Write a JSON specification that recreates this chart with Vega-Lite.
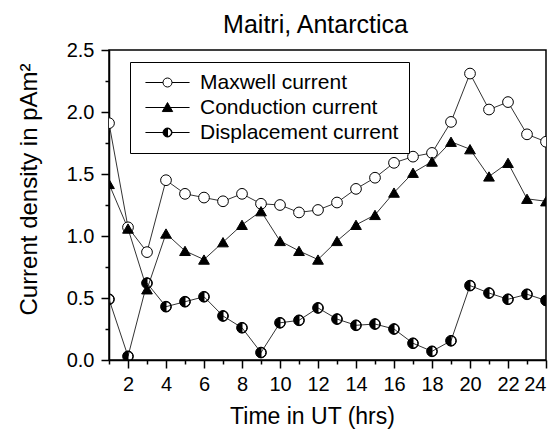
{
  "$schema": "https://vega.github.io/schema/vega-lite/v6.json",
  "width": 437,
  "height": 310,
  "autosize": "none",
  "padding": {"left": 109, "top": 50, "right": 14, "bottom": 74},
  "background": "white",
  "config": {
    "font": "Liberation Sans",
    "view": {"stroke": "black", "strokeWidth": 1.5},
    "axis": {"grid": false, "domainColor": "black", "domainWidth": 1.5, "tickColor": "black", "tickWidth": 1.5, "labelColor": "black", "titleColor": "black", "labelFont": "Liberation Sans", "titleFont": "Liberation Sans", "titleFontWeight": "normal"},
    "legend": {"orient": "none", "legendX": 21, "legendY": 12, "padding": 10, "rowPadding": 3,
      "strokeColor": "black", "fillColor": "white", "labelFontSize": 21, "labelFont": "Liberation Sans", "labelColor": "black", "labelLimit": 0,
      "symbolSize": 81, "symbolStrokeWidth": 1, "symbolStrokeColor": "black", "symbolOffset": 17, "labelOffset": 22}
  },
  "title": {"text": "Maitri, Antarctica", "fontSize": 25, "font": "Liberation Sans", "fontWeight": "normal", "color": "black", "anchor": "middle", "dx": -12, "offset": 2},
  "data": {"values": [
    {"t":1,"series":"Maxwell current","v":1.91},{"t":2,"series":"Maxwell current","v":1.07},{"t":3,"series":"Maxwell current","v":0.87},{"t":4,"series":"Maxwell current","v":1.45},{"t":5,"series":"Maxwell current","v":1.34},{"t":6,"series":"Maxwell current","v":1.31},{"t":7,"series":"Maxwell current","v":1.28},{"t":8,"series":"Maxwell current","v":1.34},{"t":9,"series":"Maxwell current","v":1.26},{"t":10,"series":"Maxwell current","v":1.25},{"t":11,"series":"Maxwell current","v":1.19},{"t":12,"series":"Maxwell current","v":1.21},{"t":13,"series":"Maxwell current","v":1.27},{"t":14,"series":"Maxwell current","v":1.38},{"t":15,"series":"Maxwell current","v":1.47},{"t":16,"series":"Maxwell current","v":1.59},{"t":17,"series":"Maxwell current","v":1.64},{"t":18,"series":"Maxwell current","v":1.67},{"t":19,"series":"Maxwell current","v":1.92},{"t":20,"series":"Maxwell current","v":2.31},{"t":21,"series":"Maxwell current","v":2.02},{"t":22,"series":"Maxwell current","v":2.08},{"t":23,"series":"Maxwell current","v":1.82},{"t":24,"series":"Maxwell current","v":1.76},
    {"t":1,"series":"Conduction current","v":1.42},{"t":2,"series":"Conduction current","v":1.06},{"t":3,"series":"Conduction current","v":0.57},{"t":4,"series":"Conduction current","v":1.02},{"t":5,"series":"Conduction current","v":0.88},{"t":6,"series":"Conduction current","v":0.81},{"t":7,"series":"Conduction current","v":0.95},{"t":8,"series":"Conduction current","v":1.09},{"t":9,"series":"Conduction current","v":1.2},{"t":10,"series":"Conduction current","v":0.96},{"t":11,"series":"Conduction current","v":0.88},{"t":12,"series":"Conduction current","v":0.81},{"t":13,"series":"Conduction current","v":0.96},{"t":14,"series":"Conduction current","v":1.09},{"t":15,"series":"Conduction current","v":1.17},{"t":16,"series":"Conduction current","v":1.35},{"t":17,"series":"Conduction current","v":1.51},{"t":18,"series":"Conduction current","v":1.6},{"t":19,"series":"Conduction current","v":1.76},{"t":20,"series":"Conduction current","v":1.7},{"t":21,"series":"Conduction current","v":1.48},{"t":22,"series":"Conduction current","v":1.59},{"t":23,"series":"Conduction current","v":1.3},{"t":24,"series":"Conduction current","v":1.28},
    {"t":1,"series":"Displacement current","v":0.49},{"t":2,"series":"Displacement current","v":0.03},{"t":3,"series":"Displacement current","v":0.62},{"t":4,"series":"Displacement current","v":0.43},{"t":5,"series":"Displacement current","v":0.47},{"t":6,"series":"Displacement current","v":0.51},{"t":7,"series":"Displacement current","v":0.355},{"t":8,"series":"Displacement current","v":0.26},{"t":9,"series":"Displacement current","v":0.06},{"t":10,"series":"Displacement current","v":0.3},{"t":11,"series":"Displacement current","v":0.32},{"t":12,"series":"Displacement current","v":0.42},{"t":13,"series":"Displacement current","v":0.33},{"t":14,"series":"Displacement current","v":0.28},{"t":15,"series":"Displacement current","v":0.29},{"t":16,"series":"Displacement current","v":0.25},{"t":17,"series":"Displacement current","v":0.135},{"t":18,"series":"Displacement current","v":0.07},{"t":19,"series":"Displacement current","v":0.155},{"t":20,"series":"Displacement current","v":0.6},{"t":21,"series":"Displacement current","v":0.54},{"t":22,"series":"Displacement current","v":0.49},{"t":23,"series":"Displacement current","v":0.53},{"t":24,"series":"Displacement current","v":0.48}
  ]},
  "encoding": {
    "x": {"field": "t", "type": "quantitative", "scale": {"domain": [1, 24], "nice": false, "zero": false},
      "axis": {"title": "Time in UT (hrs)", "titleFontSize": 23, "titleX": 203, "titleY": 63, "titleBaseline": "alphabetic", "titleAnchor": null,
        "values": [1,2,3,4,5,6,7,8,9,10,11,12,13,14,15,16,17,18,19,20,21,22,23,24],
        "labelExpr": "datum.value % 2 === 0 ? datum.label : ''", "labelFontSize": 20, "labelPadding": 6, "labelOverlap": false,
        "tickSize": {"condition": {"test": "datum.value % 2 === 0", "value": 8}, "value": 4}}},
    "y": {"field": "v", "type": "quantitative", "scale": {"domain": [0, 2.5], "nice": false},
      "axis": {"title": "Current density in pAm²", "titleFontSize": 24, "titleX": -80, "titleY": 139, "titleBaseline": "middle", "titleAlign": "center", "titleAnchor": null,
        "values": [0,0.25,0.5,0.75,1,1.25,1.5,1.75,2,2.25,2.5],
        "labelExpr": "datum.value % 0.5 === 0 ? format(datum.value, '.1f') : ''", "labelFontSize": 20, "labelPadding": 7, "labelOverlap": false,
        "tickSize": {"condition": {"test": "datum.value % 0.5 === 0", "value": 8}, "value": 4}}}
  },
  "layer": [
    {"mark": {"type": "line", "color": "#333333", "strokeWidth": 1, "clip": true},
     "encoding": {"detail": {"field": "series"}}},
    {"mark": {"type": "point", "filled": true, "stroke": "black", "strokeWidth": 1, "size": 115, "clip": true, "opacity": 1},
     "encoding": {
       "shape": {"field": "series", "type": "nominal", "legend": null,
         "scale": {"domain": ["Maxwell current", "Conduction current", "Displacement current"],
           "range": ["circle", "triangle-up", "M0,-1A1,1 0 0,0 0,1ZM0,-1A1,1 0 0,1 0,1L0,0.9A0.9,0.9 0 0,0 0,-0.9Z"]}},
       "fill": {"field": "series", "type": "nominal", "legend": null,
         "scale": {"domain": ["Maxwell current", "Conduction current", "Displacement current"], "range": ["white", "black", "black"]}}
     }},
    {"transform": [{"filter": "false"}],
     "mark": {"type": "point", "filled": true, "strokeWidth": 1, "opacity": 1},
     "encoding": {
       "shape": {"field": "series", "type": "nominal", "legend": {"title": null},
         "scale": {"domain": ["Maxwell current", "Conduction current", "Displacement current"],
           "range": ["M-4.9,0H-1M1,0H4.9M1,0A1,1 0 1,1 -1,0A1,1 0 1,1 1,0Z", "M-4.9,0H4.9M0,-1.1L1.15,0.9H-1.15Z", "M-4.9,0H-1M1,0H4.9M0,-1A1,1 0 0,0 0,1ZM0,-1A1,1 0 0,1 0,1L0,0.88A0.88,0.88 0 0,0 0,-0.88Z"]}},
       "fill": {"field": "series", "type": "nominal", "legend": {"title": null},
         "scale": {"domain": ["Maxwell current", "Conduction current", "Displacement current"], "range": ["white", "black", "black"]}},
       "stroke": {"field": "series", "type": "nominal", "legend": {"title": null},
         "scale": {"domain": ["Maxwell current", "Conduction current", "Displacement current"], "range": ["black", "black", "black"]}}
     }}
  ],
  "resolve": {"scale": {"shape": "independent", "fill": "independent", "stroke": "independent"}, "legend": {"shape": "independent", "fill": "independent", "stroke": "independent"}}
}
